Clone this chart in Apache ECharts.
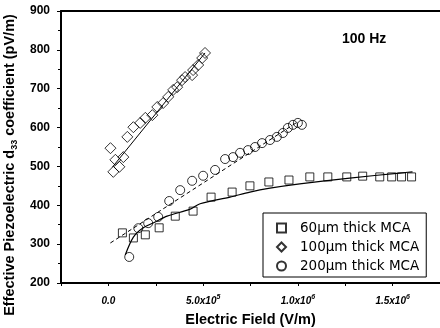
<!DOCTYPE html>
<html>
<head>
<meta charset="utf-8">
<script src="https://cdn.jsdelivr.net/npm/echarts@6/dist/echarts.min.js"></script>
<style>
html, body { margin: 0; padding: 0; background: #fff; }
#main { width: 440px; height: 328px; }
</style>
</head>
<body>
<div id="main"></div>
<script>
// 60um thick MCA (squares)
var sq60X = [7.4e4, 1.32e5, 1.95e5, 2.68e5, 3.53e5, 4.47e5, 5.42e5, 6.53e5, 7.47e5, 8.47e5, 9.53e5, 1.063e6, 1.158e6, 1.258e6, 1.342e6, 1.432e6, 1.495e6, 1.547e6, 1.6e6];
var sq60Y = [329, 316, 324, 342, 372, 385, 421, 434, 450, 460, 465, 473, 473, 473, 475, 473, 473, 473, 473];

// 100um thick MCA (diamonds)
var dia100X = [1.1e4, 2.6e4, 3.7e4, 5.8e4, 7.9e4, 1.0e5, 1.32e5, 1.68e5, 1.95e5, 2.32e5, 2.58e5, 2.89e5, 3.16e5, 3.42e5, 3.63e5, 3.89e5, 4.05e5, 4.42e5, 4.47e5, 4.74e5, 4.95e5, 5.1e5];
var dia100Y = [547, 486, 517, 499, 524, 576, 601, 612, 625, 632, 653, 663, 679, 697, 704, 722, 730, 735, 748, 761, 779, 792];

// 200um thick MCA (circles)
var cir200X = [1.1e5, 1.58e5, 2.1e5, 2.63e5, 3.21e5, 3.79e5, 4.42e5, 5.0e5, 5.63e5, 6.16e5, 6.58e5, 6.95e5, 7.37e5, 7.74e5, 8.11e5, 8.53e5, 8.89e5, 9.21e5, 9.47e5, 9.74e5, 1.0e6, 1.021e6];
var cir200Y = [267, 341, 354, 370, 411, 439, 463, 476, 491, 519, 524, 535, 542, 550, 560, 568, 576, 586, 599, 607, 612, 607];

// fit lines
var fit60X = [8.9e4, 1.32e5, 1.84e5, 2.47e5, 3.1e5, 4.32e5, 4.84e5, 6.42e5, 7.47e5, 8.53e5, 1.01e6, 1.274e6, 1.537e6, 1.605e6];
var fit60Y = [272, 318, 342, 357, 372, 390, 404, 421, 434, 444, 455, 470, 483, 486];
var fit100X = [2.1e4, 5.1e5];
var fit100Y = [498, 792];
var fit200X = [1.05e4, 1.0e6];
var fit200Y = [303, 615];

var yTicks = [200, 300, 400, 500, 600, 700, 800, 900];
var xLabels = {'0': '0.0', '500000': '5.0x10|5', '1000000': '1.0x10|6', '1500000': '1.5x10|6'};

function pairs(xs, ys) {
    var out = [];
    for (var i = 0; i < xs.length; i++) out.push([xs[i], ys[i]]);
    return out;
}

var FONT = 'Liberation Sans';
var mk = {color: 'rgba(0,0,0,0)', borderColor: '#000', borderWidth: 1};

var myChart = echarts.init(document.getElementById('main'));
var option = {
    animation: false,
    backgroundColor: '#fff',
    grid: {left: 61, right: 0, top: 11, bottom: 45, outerBoundsMode: 'none', containLabel: false},
    title: {
        text: '100 Hz',
        left: 337, top: 27,
        textStyle: {fontFamily: FONT, fontSize: 14, fontWeight: 'bold', color: '#000'}
    },
    legend: {
        orient: 'vertical',
        left: 263, top: 213,
        data: ['60\u03bcm thick MCA', '100\u03bcm thick MCA', '200\u03bcm thick MCA'],
        borderColor: '#000', borderWidth: 1,
        padding: [8, 7, 4, 13],
        itemWidth: 9, itemHeight: 9, itemGap: 5,
        textStyle: {fontFamily: 'DejaVu Sans', fontSize: 13.5, color: '#000', padding: [0, 0, 0, 9]}
    },
    xAxis: [{
        type: 'value',
        min: -2.5e5, max: 1.75e6, interval: 2.5e5,
        name: 'Electric Field (V/m)',
        nameLocation: 'middle', nameGap: 29,
        nameTextStyle: {fontFamily: FONT, fontSize: 14.5, fontWeight: 'bold', color: '#000'},
        axisLine: {onZero: false, lineStyle: {color: '#000', width: 2}},
        axisTick: {length: 3, lineStyle: {color: '#000'}},
        splitLine: {show: false},
        axisLabel: {
            margin: 11,
            showMinLabel: true, showMaxLabel: true,
            formatter: function (v) {
                var s = xLabels[String(v)];
                if (!s) return '';
                var p = s.split('|');
                return p.length > 1 ? '{b|' + p[0] + '}{p|' + p[1] + '}' : '{b|' + p[0] + '}';
            },
            rich: {
                b: {fontFamily: FONT, fontSize: 10, fontStyle: 'italic', fontWeight: 'bold', color: '#000', lineHeight: 14},
                p: {fontFamily: FONT, fontSize: 7, fontStyle: 'italic', fontWeight: 'bold', color: '#000', verticalAlign: 'top', lineHeight: 14}
            }
        }
    }, {
        type: 'value', position: 'top',
        min: -2.5e5, max: 1.75e6,
        axisLine: {onZero: false, lineStyle: {color: '#000', width: 2}},
        axisTick: {show: false}, axisLabel: {show: false}, splitLine: {show: false}
    }],
    yAxis: {
        type: 'value',
        min: 200, max: 900, interval: 100,
        name: '{a|Effective Piezoelectric d}{s|33}{a| coefficient (pV/m)}',
        nameLocation: 'middle', nameRotate: 90, nameGap: 36,
        nameTextStyle: {
            padding: [0, 36, 0, 0],
            rich: {
                a: {fontFamily: FONT, fontSize: 14.5, fontWeight: 'bold', color: '#000', lineHeight: 18},
                s: {fontFamily: FONT, fontSize: 9, fontWeight: 'bold', color: '#000', verticalAlign: 'bottom'}
            }
        },
        axisLine: {show: true, onZero: false, lineStyle: {color: '#000', width: 2}},
        axisTick: {show: true, length: 4, lineStyle: {color: '#000'}},
        minorTick: {show: true, splitNumber: 2, length: 3, lineStyle: {color: '#000'}},
        splitLine: {show: false},
        axisLabel: {
            margin: 11,
            fontFamily: FONT, fontSize: 12, fontWeight: 'bold', color: '#000',
            formatter: function (v) { return yTicks.indexOf(v) >= 0 ? String(v) : ''; }
        }
    },
    series: [
        {
            name: '60\u03bcm thick MCA', type: 'scatter', symbol: 'rect', symbolSize: 8,
            itemStyle: mk, data: pairs(sq60X, sq60Y)
        },
        {
            name: '100\u03bcm thick MCA', type: 'scatter', symbol: 'diamond', symbolSize: 11,
            itemStyle: mk, data: pairs(dia100X, dia100Y)
        },
        {
            name: '200\u03bcm thick MCA', type: 'scatter', symbol: 'circle', symbolSize: 9,
            itemStyle: mk, data: pairs(cir200X, cir200Y)
        },
        {
            name: 'fit60', type: 'line', symbol: 'none', smooth: 0.3,
            lineStyle: {color: '#000', width: 1.2}, data: pairs(fit60X, fit60Y)
        },
        {
            name: 'fit100', type: 'line', symbol: 'none',
            lineStyle: {color: '#000', width: 1}, data: pairs(fit100X, fit100Y)
        },
        {
            name: 'fit200', type: 'line', symbol: 'none',
            lineStyle: {color: '#000', width: 1, type: [4, 3]}, data: pairs(fit200X, fit200Y)
        }
    ]
};
myChart.setOption(option);
</script>
</body>
</html>
